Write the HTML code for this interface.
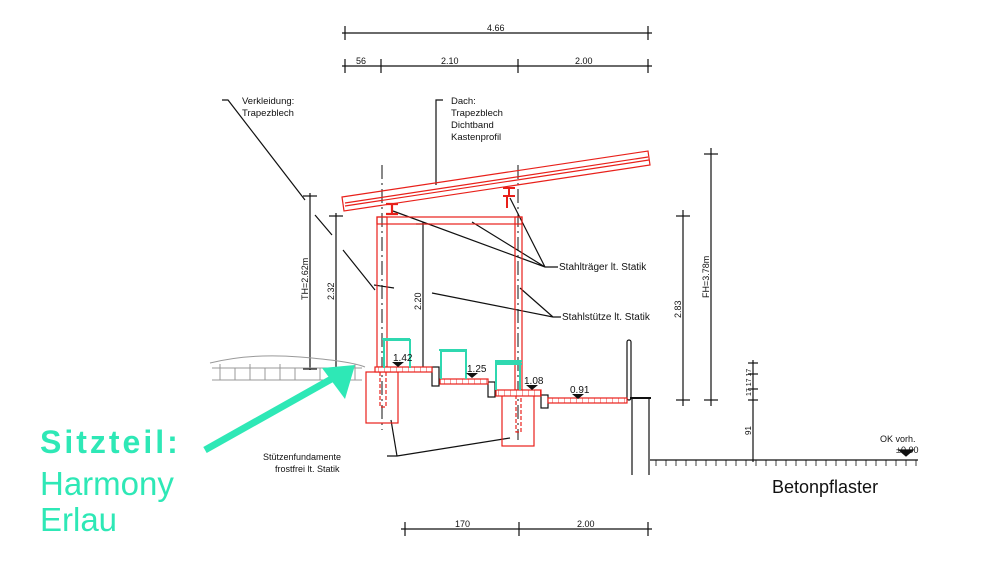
<!DOCTYPE html>
<html><head><meta charset="utf-8"><style>
html,body{margin:0;padding:0;background:#fff;width:990px;height:563px;overflow:hidden}
svg{display:block}
text{font-family:"Liberation Sans",sans-serif}
</style></head><body>
<svg width="990" height="563" viewBox="0 0 990 563" xmlns="http://www.w3.org/2000/svg">
<defs>
<pattern id="hatch" width="6" height="6" patternUnits="userSpaceOnUse"><rect width="6" height="6" fill="#fff"/><line x1="0" y1="0" x2="0" y2="6" stroke="#e33" stroke-width="1"/></pattern>
</defs>
<g stroke="#111" stroke-width="1.2" fill="none">
<line x1="342" y1="33" x2="652" y2="33"/>
<line x1="345" y1="26" x2="345" y2="40"/><line x1="648" y1="26" x2="648" y2="40"/>
<line x1="342" y1="66" x2="652" y2="66"/>
<line x1="345" y1="59" x2="345" y2="73"/><line x1="381" y1="59" x2="381" y2="73"/><line x1="518" y1="59" x2="518" y2="73"/><line x1="648" y1="59" x2="648" y2="73"/>
<line x1="401" y1="529" x2="652" y2="529"/>
<line x1="405" y1="522" x2="405" y2="536"/><line x1="519" y1="522" x2="519" y2="536"/><line x1="648" y1="522" x2="648" y2="536"/>
<line x1="310" y1="193" x2="310" y2="370"/><line x1="303" y1="196" x2="317" y2="196"/><line x1="303" y1="369" x2="317" y2="369"/>
<line x1="336" y1="213" x2="336" y2="370"/><line x1="329" y1="216" x2="343" y2="216"/><line x1="329" y1="369" x2="343" y2="369"/>
<line x1="423" y1="222" x2="423" y2="370"/><line x1="416" y1="224" x2="430" y2="224"/><line x1="416" y1="369" x2="430" y2="369"/>
<line x1="683" y1="210" x2="683" y2="406"/><line x1="676" y1="216" x2="690" y2="216"/><line x1="676" y1="400" x2="690" y2="400"/>
<line x1="711" y1="148" x2="711" y2="406"/><line x1="704" y1="154" x2="718" y2="154"/><line x1="704" y1="400" x2="718" y2="400"/>
<line x1="753" y1="360" x2="753" y2="462"/>
<line x1="748" y1="363" x2="758" y2="363"/><line x1="748" y1="374" x2="758" y2="374"/><line x1="748" y1="389" x2="758" y2="389"/><line x1="748" y1="400" x2="758" y2="400"/>
<line x1="650" y1="460" x2="918" y2="460"/>
<path d="M656 460v6M666 460v6M676 460v6M686 460v6M696 460v6M706 460v6M716 460v6M726 460v6M736 460v6M746 460v6M756 460v6M766 460v6M776 460v6M786 460v6M796 460v6M806 460v6M816 460v6M826 460v6M836 460v6M846 460v6M856 460v6M866 460v6M876 460v6M886 460v6M896 460v6M906 460v6M916 460v6" stroke-width="0.8"/>
<path d="M899 450h14l-7 6z" fill="#111"/>
<rect x="627" y="340" width="4" height="60" rx="2"/>
<line x1="632" y1="399" x2="632" y2="475"/><line x1="649" y1="399" x2="649" y2="475"/>
<line x1="630" y1="398" x2="651" y2="398" stroke-width="2"/>
<rect x="432" y="367" width="7" height="19"/>
<rect x="488" y="382" width="7" height="15"/>
<rect x="541" y="395" width="7" height="13"/>
<path d="M222 100h6l77 100M315 215l17 20M343 250l32 40"/>
<path d="M443 100h-7v85"/>
<path d="M558 267h-13L393 211M545 267L472 222M545 267L510 198"/>
<path d="M561 317h-8L432 293M553 317l-33-29M394 288l-20-3"/>
<path d="M387 456h10l-6-36M397 456l113-18"/>
<path d="M382 165v265M518 165v275" stroke-dasharray="14 4 2 4" stroke-width="1"/>
</g>
<g stroke="#999" stroke-width="1" fill="none">
<path d="M210 363q40-10 90-6t65 10"/>
<path d="M212 368h150M212 380h150M220 364v16M235 368v12M250 364v16M265 368v12M280 364v16M295 368v12M320 368v12M340 368v12M355 364v16"/>
</g>
<g stroke="#e8201a" stroke-width="1.2" fill="none">
<path d="M342 197L648 151L650 165L344 211Z"/>
<path d="M345 203L648 157M345 206L649 160"/>
<rect x="377" y="217" width="145" height="7"/>
<rect x="377" y="217" width="10" height="150"/>
<rect x="515" y="217" width="7" height="173"/>
<path d="M380 372v35h6v-35" stroke-dasharray="4 2"/>
<path d="M516 395v37h5v-37" stroke-dasharray="4 2"/>
<rect x="366" y="372" width="32" height="51"/>
<rect x="502" y="392" width="32" height="54"/>
<path d="M386 204h12M392 204v10M386 214h12" stroke-width="2.2"/>
<path d="M503 188h12M509 188v8M503 196h12M507 196v12" stroke-width="2"/>
<rect x="375" y="367" width="57" height="5" fill="url(#hatch)"/>
<rect x="440" y="379" width="48" height="5" fill="url(#hatch)"/>
<rect x="496" y="390" width="45" height="6" fill="url(#hatch)"/>
<rect x="548" y="398" width="79" height="5" fill="url(#hatch)"/>
</g>
<g stroke="#2fd8b0" stroke-width="2" fill="none">
<path d="M384 368v-28h26v28M382 339h28"/>
<path d="M441 379v-28h25v28M439 350h28"/>
<path d="M496 390v-28h24v28M495 361h27M495 364h27"/>
</g>
<g fill="#111">
<path d="M392 362h12l-6 5z"/><path d="M466 373h12l-6 5z"/><path d="M526 385h12l-6 5z"/><path d="M572 394h12l-6 5z"/>
</g>
<g font-size="10" fill="#111">
<text x="393" y="361">1.42</text><text x="467" y="372">1.25</text><text x="524" y="384">1.08</text><text x="570" y="393">0.91</text>
<text x="487" y="31" font-size="9">4.66</text>
<text x="356" y="64" font-size="9">56</text><text x="441" y="64" font-size="9">2.10</text><text x="575" y="64" font-size="9">2.00</text>
<text x="455" y="527" font-size="9">170</text><text x="577" y="527" font-size="9">2.00</text>
<text x="242" y="104" font-size="9.5">Verkleidung:</text><text x="242" y="116" font-size="9.5">Trapezblech</text>
<text x="451" y="104" font-size="9.5">Dach:</text><text x="451" y="116" font-size="9.5">Trapezblech</text><text x="451" y="128" font-size="9.5">Dichtband</text><text x="451" y="140" font-size="9.5">Kastenprofil</text>
<text x="559" y="270" font-size="10">Stahlträger lt. Statik</text>
<text x="562" y="320" font-size="10">Stahlstütze lt. Statik</text>
<text x="263" y="460" font-size="9">Stützenfundamente</text><text x="275" y="472" font-size="9">frostfrei lt. Statik</text>
<text x="880" y="442" font-size="9">OK vorh.</text><text x="896" y="453" font-size="9">±0,00</text>
<text x="772" y="493" font-size="18">Betonpflaster</text>
<text transform="translate(308,300) rotate(-90)" font-size="9">TH=2.62m</text>
<text transform="translate(334,300) rotate(-90)" font-size="9">2.32</text>
<text transform="translate(421,310) rotate(-90)" font-size="9">2.20</text>
<text transform="translate(681,318) rotate(-90)" font-size="9">2.83</text>
<text transform="translate(709,298) rotate(-90)" font-size="9">FH=3.78m</text>
<text transform="translate(751,435) rotate(-90)" font-size="8">91</text>
<text transform="translate(751,396) rotate(-90)" font-size="7">17 17 17</text>
</g>
<line x1="205" y1="450" x2="335" y2="377" stroke="#2ee8b6" stroke-width="7"/>
<path d="M355 365L322 368L345 399Z" fill="#2ee8b6"/>
<g fill="#2ee8b6" font-family="'DejaVu Sans','Liberation Sans',sans-serif">
<text x="40" y="453" font-size="32" font-weight="bold" letter-spacing="3">Sitzteil:</text>
<text x="40" y="495" font-size="33">Harmony</text>
<text x="40" y="531" font-size="33">Erlau</text>
</g>
</svg>
</body></html>
